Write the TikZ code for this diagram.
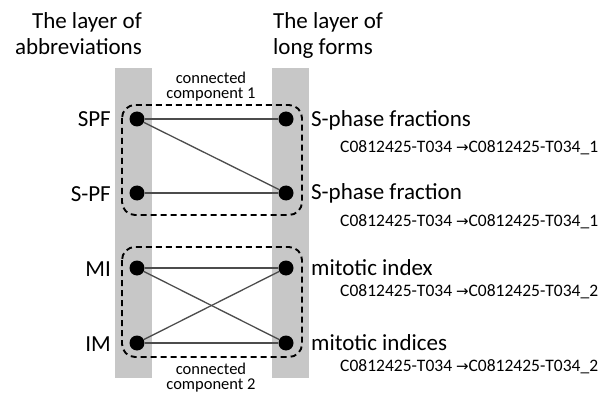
\documentclass[tikz,border=0pt]{standalone}
\usepackage{fontspec}
\setmainfont{Carlito}
\newfontfamily\arrowfont{DejaVu Sans}
\begin{document}
\begin{tikzpicture}[x=1pt,y=-1pt,
  band/.style={fill=black!22,draw=none},
  vert/.style={circle,fill=black,inner sep=0pt,minimum size=15pt},
  edge/.style={draw=black!70,line width=1.3pt},
  comp/.style={draw=black,line width=1.9pt,dash pattern=on 6pt off 4pt,rounded corners=13pt},
  title/.style={font=\fontsize{23}{26}\selectfont,inner sep=0pt},
  lab/.style={font=\fontsize{23}{27}\selectfont,inner sep=0pt},
  code/.style={font=\fontsize{17.5}{20}\selectfont,inner sep=0pt,anchor=base west},
  small/.style={font=\fontsize{16.5}{15}\selectfont,inner sep=0pt,anchor=base}]
\useasboundingbox (0,0) rectangle (616,393);
\fill[white] (0,0) rectangle (616,393);
% bands
\path[band] (115,68) rectangle (152,378);
\path[band] (272,68) rectangle (309,378);
% titles
\node[title,anchor=base east] (tl1) at (142,29) {The layer of};
\node[title,anchor=base east] (tl2) at (142,55) {abbreviations};
\node[title,anchor=base west] (tr1) at (273,29) {The layer of};
\node[title,anchor=base west] (tr2) at (273,55) {long forms};
% component boxes
\draw[comp] (122,105) rectangle (302,215);
\draw[comp] (122,247) rectangle (302,357);
\node[small] (c1a) at (211,84) {connected};
\node[small] (c1b) at (211,99) {component 1};
\node[small] (c2a) at (211,374) {connected};
\node[small] (c2b) at (211,389) {component 2};
% vertices
\node[vert] (a1) at (137,119) {};
\node[vert] (a2) at (137,193) {};
\node[vert] (a3) at (137,268) {};
\node[vert] (a4) at (137,343) {};
\node[vert] (b1) at (286,119) {};
\node[vert] (b2) at (286,193) {};
\node[vert] (b3) at (286,268) {};
\node[vert] (b4) at (286,343) {};
% edges
\draw[edge] (a1) -- (b1);
\draw[edge] (a1) -- (b2);
\draw[edge] (a2) -- (b2);
\draw[edge] (a3) -- (b3);
\draw[edge] (a3) -- (b4);
\draw[edge] (a4) -- (b3);
\draw[edge] (a4) -- (b4);
% left labels
\node[lab,anchor=base east] (la1) at (111,127) {SPF};
\node[lab,anchor=base east] (la2) at (111,201) {S-PF};
\node[lab,anchor=base east] (la3) at (111,276) {MI};
\node[lab,anchor=base east] (la4) at (111,351) {IM};
% right labels
\node[lab,anchor=base west] (lb1) at (311,127) {S-phase fractions};
\node[lab,anchor=base west] (lb2) at (311,200) {S-phase fraction};
\node[lab,anchor=base west] (lb3) at (311,275) {mitotic index};
\node[lab,anchor=base west] (lb4) at (311,350) {mitotic indices};
% codes
\node[code] (k1) at (340,153) {C0812425-T034 {\arrowfont\fontsize{15}{15}\selectfont →}C0812425-T034\_1};
\node[code] (k2) at (340,226) {C0812425-T034 {\arrowfont\fontsize{15}{15}\selectfont →}C0812425-T034\_1};
\node[code] (k3) at (340,296) {C0812425-T034 {\arrowfont\fontsize{15}{15}\selectfont →}C0812425-T034\_2};
\node[code] (k4) at (340,371) {C0812425-T034 {\arrowfont\fontsize{15}{15}\selectfont →}C0812425-T034\_2};
\end{tikzpicture}
\end{document}
